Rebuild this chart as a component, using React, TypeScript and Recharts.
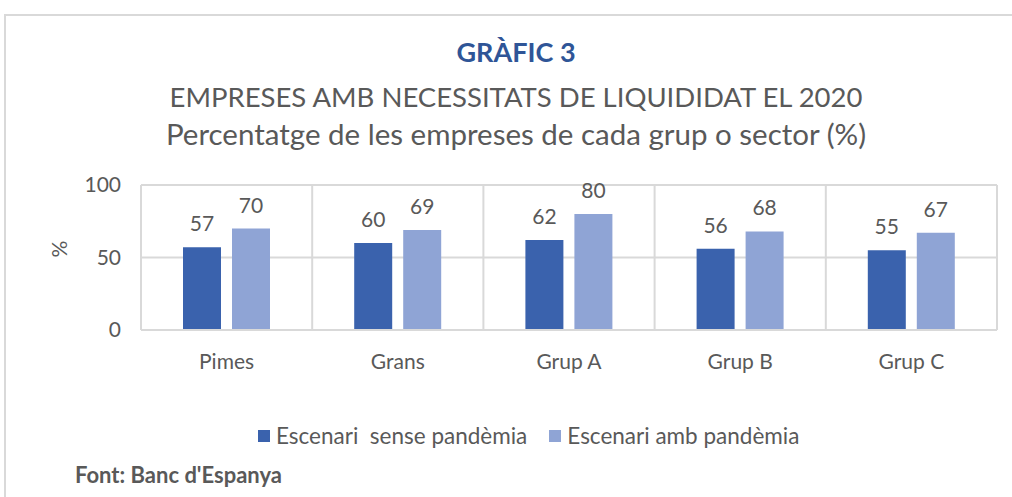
import React from 'react';
import { BarChart, Bar, XAxis, YAxis, CartesianGrid, LabelList } from 'recharts';

const categories = ['Pimes', 'Grans', 'Grup A', 'Grup B', 'Grup C'];
const senseValues = [57, 60, 62, 56, 55];
const ambValues = [70, 69, 80, 68, 67];
const yTicks = [0, 50, 100];

const SENSE = 'Escenari  sense pandèmia';
const AMB = 'Escenari amb pandèmia';

const DARK = '#3A62AD';
const LIGHT = '#8FA4D5';
const GRID = '#D9D9D9';
const TEXT = '#595959';
const FONT = 'Lato, "Open Sans", sans-serif';

const data = categories.map((name, i) => ({ name, sense: senseValues[i], amb: ambValues[i] }));

const App: React.FC = () => {
  return (
    <div style={{ position: 'absolute', left: 0, top: 0, width: 1012, height: 497, overflow: 'hidden', background: '#fff', fontFamily: FONT, color: TEXT }}>
      {/* outer frame */}
      <div style={{ position: 'absolute', left: 4, top: 14, width: 1100, height: 600, border: `2px solid ${GRID}`, boxSizing: 'border-box' }} />

      <div style={{ position: 'absolute', left: 16, width: 1000, top: 34, textAlign: 'center', fontSize: 27, fontWeight: 700, color: '#2F5597', lineHeight: '36px' }}>
        GRÀFIC 3
      </div>
      <div style={{ position: 'absolute', left: 16, width: 1000, top: 78, textAlign: 'center', fontSize: 27.5, lineHeight: '38px' }}>
        EMPRESES AMB NECESSITATS DE LIQUIDIDAT EL 2020
      </div>
      <div style={{ position: 'absolute', left: 16, width: 1000, top: 114, textAlign: 'center', fontSize: 29.5, lineHeight: '40px' }}>
        Percentatge de les empreses de cada grup o sector (%)
      </div>

      <div style={{ position: 'absolute', left: 0, top: 0 }}>
        <BarChart width={1012} height={400} data={data} margin={{ top: 185, right: 15, bottom: 0, left: 0 }} barSize={38} barGap={11}>
          <CartesianGrid
            stroke={GRID}
            strokeWidth={2}
            verticalCoordinatesGenerator={({ offset }: any) =>
              categories.map((_, i) => offset.left + (i * offset.width) / categories.length).concat(offset.left + offset.width)
            }
          />
          <XAxis
            dataKey="name"
            height={70}
            axisLine={{ stroke: GRID, strokeWidth: 2 }}
            tickLine={false}
            tickSize={0}
            tickMargin={24}
            tick={{ fill: TEXT, fontSize: 21, fontFamily: FONT }}
          />
          <YAxis
            width={141}
            domain={[0, 100]}
            ticks={yTicks}
            axisLine={false}
            tickLine={false}
            tickSize={0}
            tickMargin={20}
            tick={{ fill: TEXT, fontSize: 21, fontFamily: FONT }}
            label={{ value: '%', angle: -90, position: 'insideLeft', offset: 60, fill: TEXT, fontSize: 21, fontFamily: FONT }}
          />
          <Bar dataKey="sense" fill={DARK} isAnimationActive={false}>
            <LabelList dataKey="sense" position="top" offset={16} fill={TEXT} fontSize={21} fontFamily={FONT} />
          </Bar>
          <Bar dataKey="amb" fill={LIGHT} isAnimationActive={false}>
            <LabelList dataKey="amb" position="top" offset={16} fill={TEXT} fontSize={21} fontFamily={FONT} />
          </Bar>
        </BarChart>
      </div>

      {/* legend */}
      <div style={{ position: 'absolute', left: 258, top: 423, display: 'flex', alignItems: 'center', fontSize: 22.5, whiteSpace: 'pre', lineHeight: '26px' }}>
        <span style={{ width: 12, height: 12, background: DARK, display: 'inline-block', marginRight: 6 }} />
        <span>{SENSE}</span>
        <span style={{ width: 12, height: 12, background: LIGHT, display: 'inline-block', marginLeft: 22, marginRight: 6 }} />
        <span>{AMB}</span>
      </div>

      <div style={{ position: 'absolute', left: 75, top: 462, fontSize: 22, fontWeight: 700, lineHeight: '26px' }}>
        Font: Banc d'Espanya
      </div>
    </div>
  );
};

export default App;
